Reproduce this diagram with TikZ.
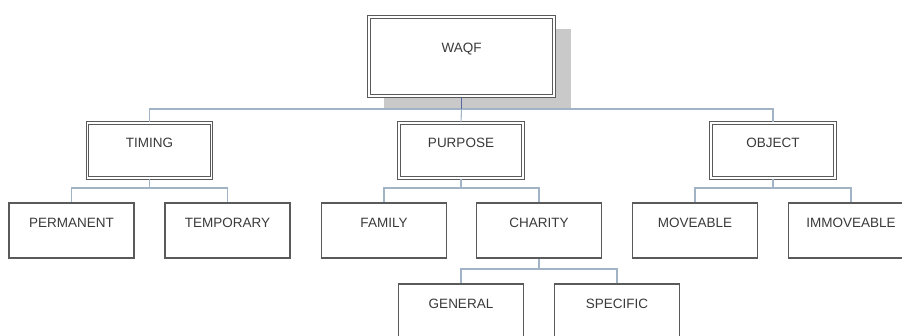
\documentclass[tikz,border=0pt]{standalone}
\usepackage{fontspec}
\setmainfont{Liberation Sans}
\definecolor{conncol}{HTML}{A3B3C6}
\definecolor{darkconn}{HTML}{5565A0}
\definecolor{boxline}{HTML}{5A5A5A}
\definecolor{txtcol}{HTML}{3A3A3A}
\definecolor{shadowcol}{HTML}{C9C9C9}
\tikzset{
  basebox/.style={rectangle, inner sep=0pt, minimum height=55pt, fill=white,
    font=\fontsize{13.5}{15}\selectfont, text=txtcol,
    text height=9.5pt, text depth=15pt},
  leafbox/.style={basebox, draw=boxline, line width=1.1pt, minimum width=125pt},
  dblbox/.style={basebox, draw=boxline, line width=1.1pt, double=white,
    double distance=1.1pt, minimum width=124pt},
  conn/.style={draw=conncol, line width=1.1pt},
}
\begin{document}
\begin{tikzpicture}[x=1pt, y=-1pt]
\useasboundingbox (0,0) rectangle (902,336);
\clip (0,0) rectangle (902,336);
\fill[white] (0,0) rectangle (902,336);
% shadow of the top box
\fill[shadowcol] (384,29) rectangle (571,110);
% top box
\node[dblbox, minimum width=185pt, minimum height=79pt,
  text height=9.5pt, text depth=17pt] (waqf) at (461.5,56.5) {WAQF};
% second level
\node[dblbox] (timing)  at (149.5,150.5) {TIMING};
\node[dblbox] (purpose) at (461,150.5) {PURPOSE};
\node[dblbox] (object)  at (773,150.5) {OBJECT};
% leaves
\node[leafbox] (permanent)  at (71.5,230.5) {PERMANENT};
\node[leafbox] (temporary)  at (227.5,230.5) {TEMPORARY};
\node[leafbox] (family)     at (384,230.5) {FAMILY};
\node[leafbox] (charity)    at (539,230.5) {CHARITY};
\node[leafbox] (moveable)   at (695,230.5) {MOVEABLE};
\node[leafbox] (immoveable) at (851,230.5) {IMMOVEABLE};
\node[leafbox] (general)    at (461,311.5) {GENERAL};
\node[leafbox] (specific)   at (617,311.5) {SPECIFIC};
% junctions
\coordinate (j1) at (461.5,109);
\coordinate (j2) at (149.5,188);
\coordinate (j3) at (461,188);
\coordinate (j4) at (773,188);
\coordinate (j5) at (539,269);
% connectors
\draw[conn] (j1) -| (timing.north);
\draw[conn] (j1) -| (object.north);
\draw[conn] (j1) -- (purpose.north);
\draw[draw=darkconn, line width=1.1pt] (waqf.south) -- (j1);
\draw[conn] (timing.south) -- (j2);
\draw[conn] (j2) -| (permanent.north);
\draw[conn] (j2) -| (temporary.north);
\draw[conn] (purpose.south) -- (j3);
\draw[conn] (j3) -| (family.north);
\draw[conn] (j3) -| (charity.north);
\draw[conn] (object.south) -- (j4);
\draw[conn] (j4) -| (moveable.north);
\draw[conn] (j4) -| (immoveable.north);
\draw[conn] (charity.south) -- (j5);
\draw[conn] (j5) -| (general.north);
\draw[conn] (j5) -| (specific.north);
\end{tikzpicture}
\end{document}
